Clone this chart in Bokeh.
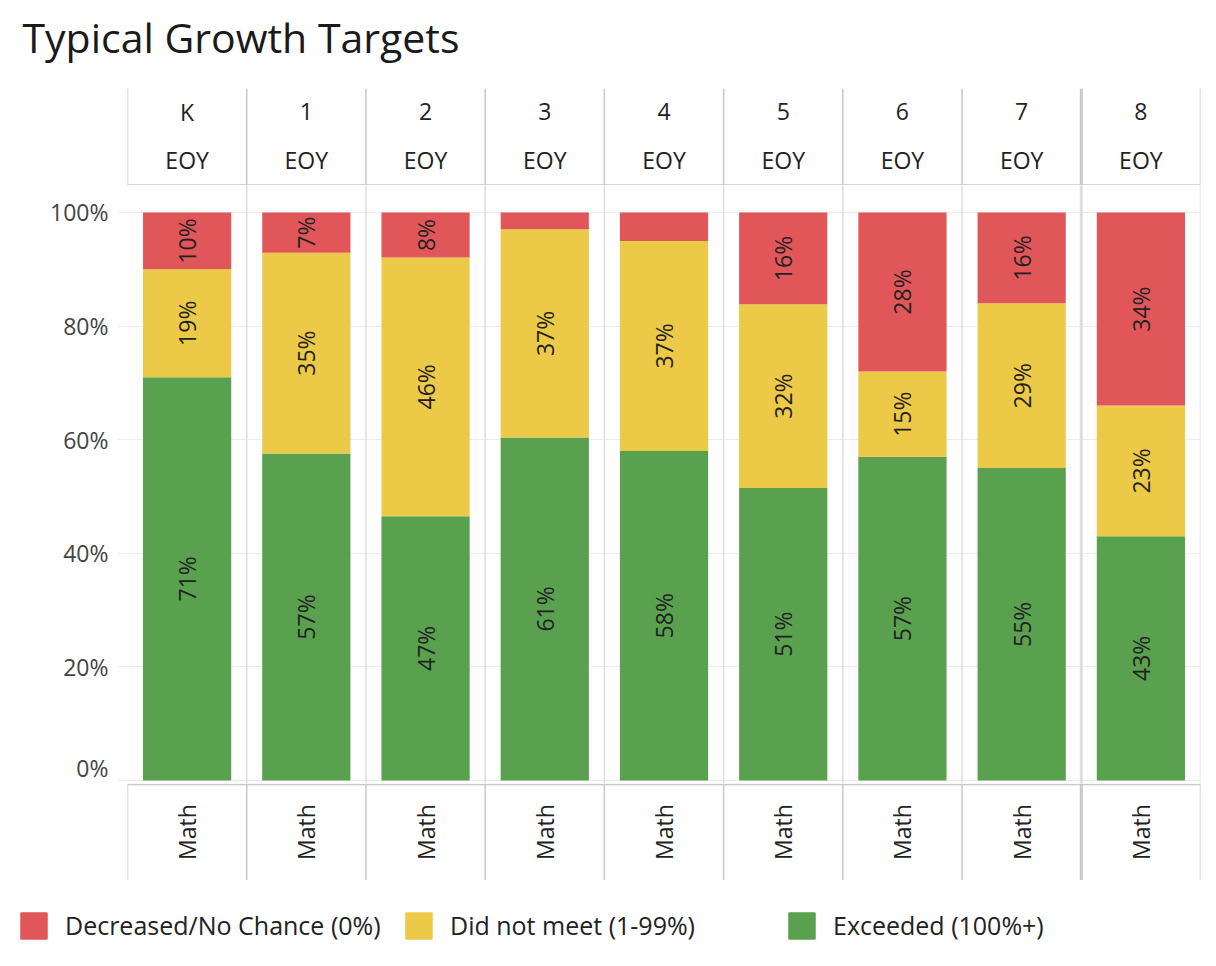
import math
from bokeh.plotting import figure
from bokeh.layouts import column
from bokeh.models import (ColumnDataSource, Range1d, FixedTicker, PrintfTickFormatter,
                          Legend, LegendItem, Label)
from bokeh.embed import file_html
from bokeh.resources import INLINE
from bokeh.core.properties import value

# ---------------- data ----------------
grades = ["K", "1", "2", "3", "4", "5", "6", "7", "8"]
period = "EOY"
subject = "Math"
exceeded = [71, 57, 47, 61, 58, 51, 57, 55, 43]
did_not_meet = [19, 35, 46, 37, 37, 32, 15, 29, 23]
decreased = [10, 7, 8, 3, 5, 16, 28, 16, 34]
series_names = ["Decreased/No Chance (0%)", "Did not meet (1-99%)", "Exceeded (100%+)"]
series_colors = ["#E15759", "#EDC948", "#59A14F"]
y_ticks = [0, 20, 40, 60, 80, 100]
title_text = "Typical Growth Targets"

# ---------------- style ----------------
FONT = "Open Sans"
FS = "23px"
W = 1208
LEFT = 127
RIGHT = 8
LINE_C = "#c8c8c8"
DIV_C = "#dedede"
TXT_C = "#222222"

n = len(grades)
centers = [i + 0.5 for i in range(n)]
bounds = list(range(n + 1))
# the divider before the last pane is drawn heavier, as in the reference
bound_w = [3 if b == n - 1 else 1.5 for b in bounds]
xr = Range1d(0, n)


def bare_fig(height, xrange, yrange, left=0, right=0):
    p = figure(width=W, height=height, x_range=xrange, y_range=yrange,
               output_backend="svg", toolbar_location=None,
               x_axis_location=None, y_axis_location=None,
               min_border_left=left, min_border_right=right,
               min_border_top=0, min_border_bottom=0)
    p.grid.visible = False
    p.outline_line_color = None
    return p


# ---------------- title strip ----------------
tf = bare_fig(88, Range1d(0, 1), Range1d(0, 1))
tf.add_layout(Label(x=22, y=52, x_units="screen", y_units="screen", text=title_text,
                    text_font=FONT, text_font_size="41px", text_color="#1a1a1a",
                    text_baseline="alphabetic", text_align="left"))

# ---------------- header ----------------
head = bare_fig(97, xr, Range1d(0, 2), LEFT, RIGHT)
head.multi_line(xs=[[b, b] for b in bounds], ys=[[0, 2]] * len(bounds),
                line_color=LINE_C, line_width=bound_w)
head.segment(x0=[0], y0=[0.01], x1=[n], y1=[0.01], line_color=LINE_C, line_width=1.5)
head.text(x=centers, y=[1.52] * n, text=grades, text_font=value(FONT),
          text_font_size=FS, text_color=TXT_C, text_align="center",
          text_baseline="middle")
head.text(x=centers, y=[0.52] * n, text=[period] * n, text_font=value(FONT),
          text_font_size=FS, text_color=TXT_C, text_align="center",
          text_baseline="middle")

# ---------------- main bars ----------------
main = figure(width=W, height=598, x_range=xr, y_range=Range1d(-0.53, 104.75),
              output_backend="svg", toolbar_location=None, x_axis_location=None,
              min_border_left=LEFT, min_border_right=RIGHT,
              min_border_top=0, min_border_bottom=0)
main.outline_line_color = None
main.xgrid.visible = False
main.ygrid.ticker = FixedTicker(ticks=y_ticks)
main.ygrid.grid_line_color = "#ececec"
ax = main.yaxis[0]
ax.ticker = FixedTicker(ticks=y_ticks)
ax.formatter = PrintfTickFormatter(format="%d%%")
ax.axis_line_color = None
ax.major_tick_line_color = "#ececec"
ax.major_tick_out = 9
ax.major_tick_in = 0
ax.minor_tick_line_color = None
ax.major_label_standoff = 10
ax.major_label_text_font = FONT
ax.major_label_text_font_size = FS
ax.major_label_text_color = "#444444"

totals = [a + b + c for a, b, c in zip(exceeded, did_not_meet, decreased)]
g_n = [v / t * 100 for v, t in zip(exceeded, totals)]
y_n = [v / t * 100 for v, t in zip(did_not_meet, totals)]
r_n = [v / t * 100 for v, t in zip(decreased, totals)]
src = ColumnDataSource(dict(x=centers, g=g_n, y=y_n, r=r_n))

main.multi_line(xs=[[b, b] for b in bounds[1:]], ys=[[-5, 110]] * n,
                line_color=DIV_C, line_width=bound_w[1:])
main.vbar_stack(["g", "y", "r"], x="x", width=0.74, source=src,
                color=[series_colors[2], series_colors[1], series_colors[0]],
                line_color=None)

lx, ly, lt = [], [], []
for i in range(n):
    segs = [(g_n[i], exceeded[i]), (y_n[i], did_not_meet[i]), (r_n[i], decreased[i])]
    bottom = 0
    for h, raw in segs:
        if raw >= 6:
            lx.append(centers[i])
            ly.append(bottom + h / 2)
            lt.append(f"{raw}%")
        bottom += h
main.text(x=lx, y=ly, text=lt, angle=math.pi / 2, text_font=value(FONT),
          text_font_size=FS, text_color=TXT_C, text_align="center",
          text_baseline="middle")

# ---------------- footer (subject row) ----------------
foot = bare_fig(97, xr, Range1d(0, 1), LEFT, RIGHT)
foot.multi_line(xs=[[b, b] for b in bounds], ys=[[0, 1]] * len(bounds),
                line_color=LINE_C, line_width=bound_w)
foot.segment(x0=[0], y0=[0.99], x1=[n], y1=[0.99], line_color=LINE_C, line_width=1.5)
foot.text(x=centers, y=[0.5] * n, text=[subject] * n, angle=math.pi / 2,
          text_font=value(FONT), text_font_size=FS, text_color=TXT_C,
          text_align="center", text_baseline="middle")

# ---------------- legend ----------------
lf = bare_fig(80, Range1d(0, 1), Range1d(0, 1))
leg_x = [17, 402, 785]
for i, (name, c) in enumerate(zip(series_names, series_colors)):
    r = lf.vbar(x=[-10], top=[-10], width=0.1, color=c)
    leg = Legend(items=[LegendItem(label=name, renderers=[r])],
                 location=(leg_x[i], 18), orientation="horizontal",
                 glyph_width=33, glyph_height=33, label_height=33,
                 padding=0, margin=0, border_line_color=None,
                 background_fill_alpha=0, label_standoff=15,
                 label_text_font=FONT, label_text_font_size="25px",
                 label_text_color=TXT_C)
    lf.add_layout(leg)

layout = column(tf, column(head, main, foot), lf)
open("out.html", "w").write(file_html(layout, INLINE))
